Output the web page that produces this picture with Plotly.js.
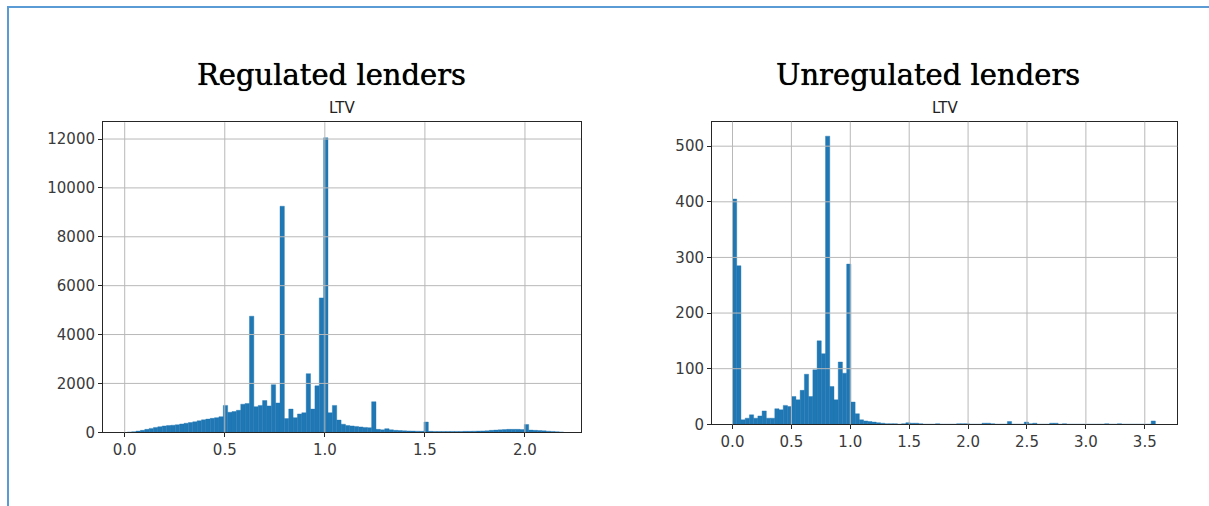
<!DOCTYPE html>
<html>
<head>
<meta charset="utf-8">
<script src="https://cdn.plot.ly/plotly-3.0.1.min.js"></script>
<style>
  html, body { margin: 0; padding: 0; background: #ffffff; }
  #chart { width: 1209px; height: 506px; }
</style>
</head>
<body>
<div id="chart"></div>
<script>
// ---- Data ----
const chartTitles = ["Regulated lenders", "Unregulated lenders"];
const variableName = "LTV";

// Regulated lenders: histogram of LTV, 100 bins
const regBinStart = 0.013;
const regBinWidth = 0.0218;
const regCounts = [
  5, 20, 50, 80, 120, 160, 200, 230, 260, 280,
  290, 310, 340, 370, 400, 430, 470, 510, 540, 570,
  600, 640, 1100, 820, 850, 900, 1150, 1180, 4750, 1050,
  1100, 1300, 1080, 1950, 1200, 9250, 560, 950, 600, 750,
  800, 2400, 950, 1900, 5500, 12050, 800, 1100, 500, 330,
  280, 260, 240, 220, 200, 190, 1250, 120, 100, 150,
  100, 80, 70, 60, 55, 50, 45, 40, 420, 40,
  35, 35, 35, 35, 35, 35, 35, 40, 40, 45,
  50, 55, 60, 80, 90, 100, 110, 120, 120, 120,
  110, 320, 90, 80, 70, 60, 45, 35, 20, 8
];

// Unregulated lenders: histogram of LTV, 100 bins
const unregBinStart = 0.0;
const unregBinWidth = 0.0359;
const unregCounts = [
  405, 285, 8, 11, 17, 11, 15, 24, 11, 11,
  28, 26, 34, 32, 50, 44, 61, 90, 50, 98,
  150, 127, 518, 68, 44, 112, 92, 288, 40, 19,
  8, 6, 5, 4, 3, 2, 1, 1, 1, 0,
  1, 3, 2, 2, 1, 0, 0, 0, 1, 0,
  0, 0, 0, 1, 1, 1, 0, 0, 0, 2,
  2, 1, 0, 0, 0, 5, 0, 0, 0, 4,
  1, 2, 0, 0, 0, 2, 2, 0, 1, 0,
  0, 0, 0, 0, 0, 0, 0, 0, 1, 0,
  0, 1, 0, 0, 0, 0, 0, 0, 0, 6
];

const regXTicks = [0.0, 0.5, 1.0, 1.5, 2.0];
const regYTicks = [0, 2000, 4000, 6000, 8000, 10000, 12000];
const unregXTicks = [0.0, 0.5, 1.0, 1.5, 2.0, 2.5, 3.0, 3.5];
const unregYTicks = [0, 100, 200, 300, 400, 500];

// ---- Layout helpers ----
const W = 1209, H = 506;
const px = v => v / W;
const py = v => 1 - v / H;

function centers(start, width, n) {
  const c = [];
  for (let i = 0; i < n; i++) c.push(start + width * (i + 0.5));
  return c;
}

const barColor = '#1f77b4';
const gridColor = '#b8b8b8';
const lineColor = '#262626';
const tickFont = { family: 'DejaVu Sans, sans-serif', size: 15, color: '#3a3a3a' };

const traces = [
  {
    type: 'bar',
    x: centers(regBinStart, regBinWidth, regCounts.length),
    y: regCounts,
    width: regBinWidth,
    marker: { color: barColor, line: { width: 0.4, color: barColor } },
    xaxis: 'x', yaxis: 'y',
    hoverinfo: 'x+y'
  },
  {
    type: 'bar',
    x: centers(unregBinStart, unregBinWidth, unregCounts.length),
    y: unregCounts,
    width: unregBinWidth,
    marker: { color: barColor, line: { width: 0.4, color: barColor } },
    xaxis: 'x2', yaxis: 'y2',
    hoverinfo: 'x+y'
  }
];

function axisBase(extra) {
  return Object.assign({
    showline: true, mirror: true, linecolor: lineColor, linewidth: 1,
    showgrid: false, zeroline: false,
    ticks: 'outside', ticklen: 4, tickwidth: 1, tickcolor: lineColor,
    tickfont: tickFont, tickmode: 'array', fixedrange: true
  }, extra);
}

// grid lines drawn above the bars (as in matplotlib)
const shapes = [];
function addGrid(xref, yref, xt, yt) {
  xt.forEach(v => shapes.push({
    type: 'line', layer: 'above', xref: xref, yref: yref + ' domain',
    x0: v, x1: v, y0: 0, y1: 1,
    line: { color: gridColor, width: 1 }
  }));
  yt.forEach(v => shapes.push({
    type: 'line', layer: 'above', xref: xref + ' domain', yref: yref,
    x0: 0, x1: 1, y0: v, y1: v,
    line: { color: gridColor, width: 1 }
  }));
}
addGrid('x', 'y', regXTicks, regYTicks.slice(1));
addGrid('x2', 'y2', unregXTicks, unregYTicks.slice(1));

// page frame (blue rule on the left and top)
shapes.push({ type: 'line', layer: 'above', xref: 'paper', yref: 'paper',
  x0: px(8), x1: px(8), y0: 0, y1: py(7), line: { color: '#5b9bd5', width: 2 } });
shapes.push({ type: 'line', layer: 'above', xref: 'paper', yref: 'paper',
  x0: px(7), x1: 1, y0: py(7), y1: py(7), line: { color: '#5b9bd5', width: 2 } });

const titleFont = { family: 'DejaVu Serif, serif', size: 29, color: '#000000',
                    shadow: '0 0 0.7px #000000' };
const subFont = { family: 'DejaVu Sans, sans-serif', size: 15, color: '#222222' };

const layout = {
  width: W, height: H,
  margin: { l: 0, r: 0, t: 0, b: 0, pad: 0 },
  paper_bgcolor: '#ffffff', plot_bgcolor: '#ffffff',
  showlegend: false, bargap: 0, barmode: 'overlay',
  xaxis: axisBase({
    domain: [px(103), px(581)], range: [-0.1085, 2.28], anchor: 'y',
    tickvals: regXTicks, ticktext: regXTicks.map(v => v.toFixed(1))
  }),
  yaxis: axisBase({
    domain: [py(432.3), py(122.3)], range: [0, 12684], anchor: 'x',
    tickvals: regYTicks, ticktext: regYTicks.map(String)
  }),
  xaxis2: axisBase({
    domain: [px(712), px(1177.3)], range: [-0.174, 3.776], anchor: 'y2',
    tickvals: unregXTicks, ticktext: unregXTicks.map(v => v.toFixed(1))
  }),
  yaxis2: axisBase({
    domain: [py(424.3), py(121.7)], range: [0, 544], anchor: 'x2',
    tickvals: unregYTicks, ticktext: unregYTicks.map(String)
  }),
  shapes: shapes,
  annotations: [
    { text: chartTitles[0], xref: 'paper', yref: 'paper', x: px(331.5), y: py(75),
      xanchor: 'center', yanchor: 'middle', showarrow: false, font: titleFont },
    { text: chartTitles[1], xref: 'paper', yref: 'paper', x: px(928), y: py(75),
      xanchor: 'center', yanchor: 'middle', showarrow: false, font: titleFont },
    { text: variableName, xref: 'x domain', yref: 'paper', x: 0.5, y: py(108),
      xanchor: 'center', yanchor: 'middle', showarrow: false, font: subFont },
    { text: variableName, xref: 'x2 domain', yref: 'paper', x: 0.5, y: py(108),
      xanchor: 'center', yanchor: 'middle', showarrow: false, font: subFont }
  ]
};

Plotly.newPlot('chart', traces, layout, { displayModeBar: false, staticPlot: true });
</script>
</body>
</html>
